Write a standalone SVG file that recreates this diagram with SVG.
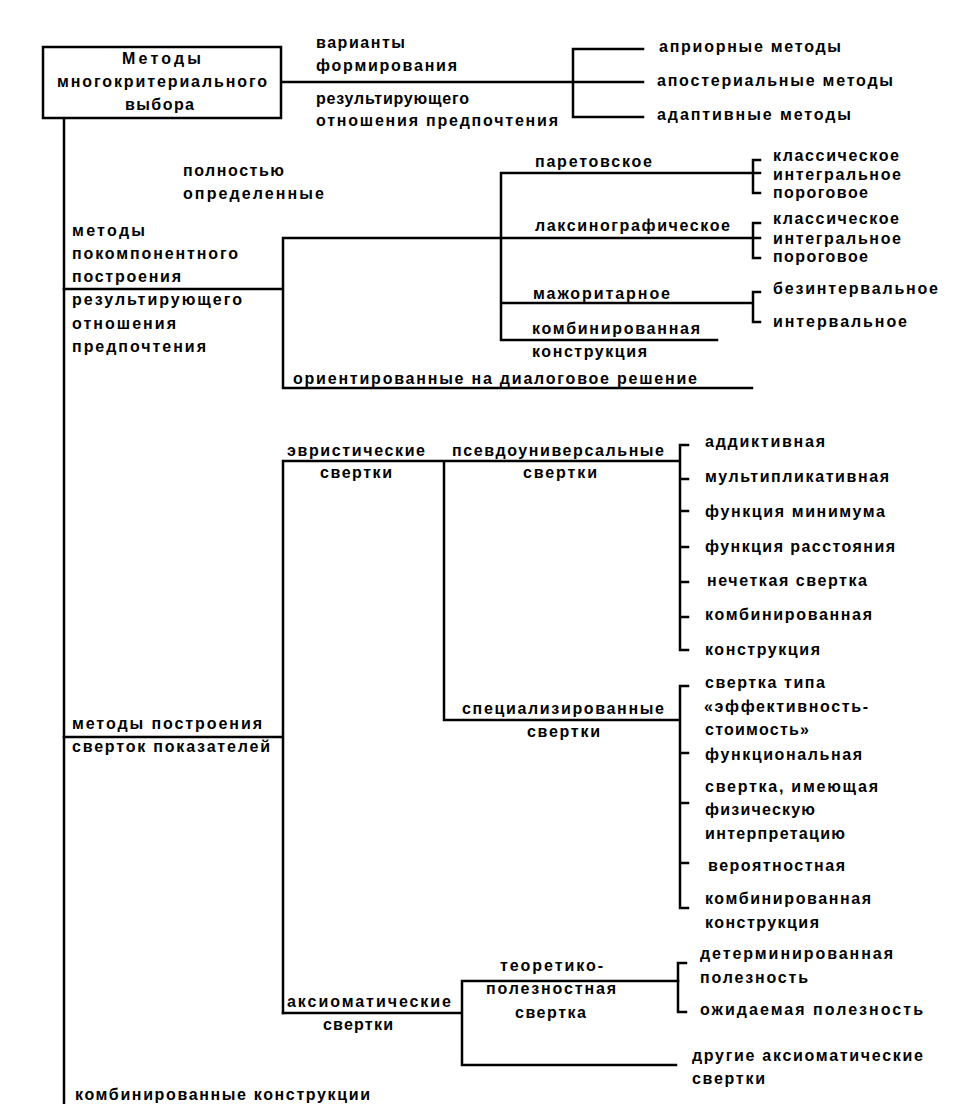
<svg xmlns="http://www.w3.org/2000/svg" width="960" height="1104" viewBox="0 0 960 1104">
<style>
text{font-family:"Liberation Sans",Arial,sans-serif;font-weight:bold;font-size:16px;fill:#000}
.ln{fill:none;stroke:#000;stroke-width:2.5;stroke-linecap:square}
.bx{fill:#fff;stroke:#000;stroke-width:2.5}
</style>
<rect width="960" height="1104" fill="#fff"/>
<g id="connectors">
<path class="ln" d="M64 118 V1104"/>
<path class="ln" d="M281 82 H643 M573 49 V117 M573 49 H643 M573 117 H643"/>
<path class="ln" d="M64 289 H283 M283 238 V388 M283 238 H501 M283 388 H752"/>
<path class="ln" d="M501 173 V340 M501 173 H760 M501 238 H760 M501 303 H752 M501 340 H717"/>
<path class="ln" d="M760 160 H753 V193 H760 M760 223 H753 V258 H760 M760 292 H753 V322 H760"/>
<path class="ln" d="M64 737 H283 M283 461 V1013 M283 461 H679 M444 461 V720 M444 720 H679"/>
<path class="ln" d="M688 445 H680 V650 H688 M680 479 H688 M680 511 H688 M680 547 H688 M680 582 H688 M680 617 H688"/>
<path class="ln" d="M688 686 H680 V908 H688 M680 753 H688 M680 803 H688 M680 863 H688"/>
<path class="ln" d="M283 1013 H462 M462 981 V1065 M462 981 H678 M462 1065 H676"/>
<path class="ln" d="M686 963 H678 V1012 H686"/>
</g>
<g id="root">
<rect class="bx" x="43" y="47" width="238" height="71"/>
<text x="122" y="64" textLength="79">Методы</text>
<text x="57" y="87" textLength="210">многокритериального</text>
<text x="125" y="110" textLength="69">выбора</text>
</g>
<g id="n-variants">
<text x="316" y="48" textLength="89">варианты</text>
<text x="316" y="71" textLength="141">формирования</text>
<text x="316" y="104" textLength="153">результирующего</text>
<text x="316" y="126" textLength="242">отношения предпочтения</text>
</g>
<g id="n-apriori"><text x="659" y="52" textLength="182">априорные методы</text></g>
<g id="n-aposteriori"><text x="657" y="86" textLength="236">апостериальные методы</text></g>
<g id="n-adaptive"><text x="657" y="120" textLength="194">адаптивные методы</text></g>
<g id="n-full">
<text x="183" y="176" textLength="101">полностью</text>
<text x="183" y="199" textLength="141">определенные</text>
</g>
<g id="n-component">
<text x="72" y="236" textLength="73">методы</text>
<text x="72" y="259" textLength="166">покомпонентного</text>
<text x="72" y="282" textLength="109">построения</text>
<text x="72" y="305" textLength="170">результирующего</text>
<text x="72" y="329" textLength="104">отношения</text>
<text x="72" y="352" textLength="134">предпочтения</text>
</g>
<g id="n-pareto"><text x="535" y="167" textLength="117">паретовское</text></g>
<g id="n-lex"><text x="535" y="231" textLength="195">лаксинографическое</text></g>
<g id="n-major"><text x="533" y="299" textLength="137">мажоритарное</text></g>
<g id="n-comb1">
<text x="532" y="334" textLength="168">комбинированная</text>
<text x="532" y="357" textLength="115">конструкция</text>
</g>
<g id="n-pareto-sub">
<text x="773" y="161" textLength="126">классическое</text>
<text x="773" y="180" textLength="128">интегральное</text>
<text x="773" y="198" textLength="95">пороговое</text>
</g>
<g id="n-lex-sub">
<text x="773" y="224" textLength="126">классическое</text>
<text x="773" y="244" textLength="128">интегральное</text>
<text x="773" y="262" textLength="95">пороговое</text>
</g>
<g id="n-major-sub">
<text x="773" y="294" textLength="165">безинтервальное</text>
<text x="773" y="327" textLength="134">интервальное</text>
</g>
<g id="n-dialog"><text x="293" y="384" textLength="404">ориентированные на диалоговое решение</text></g>
<g id="n-convolution">
<text x="72" y="729" textLength="190">методы построения</text>
<text x="72" y="752" textLength="198">сверток показателей</text>
</g>
<g id="n-heuristic">
<text x="287" y="456" textLength="138">эвристические</text>
<text x="320" y="478" textLength="72">свертки</text>
</g>
<g id="n-pseudo">
<text x="452" y="456" textLength="212">псевдоуниверсальные</text>
<text x="523" y="478" textLength="74">свертки</text>
</g>
<g id="n-pseudo-sub">
<text x="705" y="447" textLength="120">аддиктивная</text>
<text x="705" y="482" textLength="184">мультипликативная</text>
<text x="705" y="517" textLength="180">функция минимума</text>
<text x="705" y="552" textLength="190">функция расстояния</text>
<text x="707" y="586" textLength="160">нечеткая свертка</text>
<text x="705" y="620" textLength="167">комбинированная</text>
<text x="705" y="655" textLength="115">конструкция</text>
</g>
<g id="n-special">
<text x="462" y="714" textLength="202">специализированные</text>
<text x="527" y="737" textLength="73">свертки</text>
</g>
<g id="n-special-sub">
<text x="705" y="688" textLength="120">свертка типа</text>
<text x="704" y="712" textLength="164">«эффективность-</text>
<text x="705" y="735" textLength="104">стоимость»</text>
<text x="705" y="760" textLength="157">функциональная</text>
<text x="705" y="792" textLength="173">свертка, имеющая</text>
<text x="705" y="815" textLength="110">физическую</text>
<text x="705" y="839" textLength="140">интерпретацию</text>
<text x="708" y="871" textLength="137">вероятностная</text>
<text x="705" y="904" textLength="166">комбинированная</text>
<text x="705" y="928" textLength="114">конструкция</text>
</g>
<g id="n-axiom">
<text x="287" y="1007" textLength="164">аксиоматические</text>
<text x="323" y="1030" textLength="70">свертки</text>
</g>
<g id="n-utility">
<text x="500" y="971" textLength="103">теоретико-</text>
<text x="486" y="994" textLength="130">полезностная</text>
<text x="515" y="1018" textLength="71">свертка</text>
</g>
<g id="n-utility-sub">
<text x="700" y="959" textLength="193">детерминированная</text>
<text x="700" y="983" textLength="108">полезность</text>
<text x="700" y="1015" textLength="223">ожидаемая полезность</text>
</g>
<g id="n-other-axiom">
<text x="692" y="1061" textLength="231">другие аксиоматические</text>
<text x="692" y="1084" textLength="73">свертки</text>
</g>
<g id="n-combined"><text x="75" y="1100" textLength="295">комбинированные конструкции</text></g>
</svg>
